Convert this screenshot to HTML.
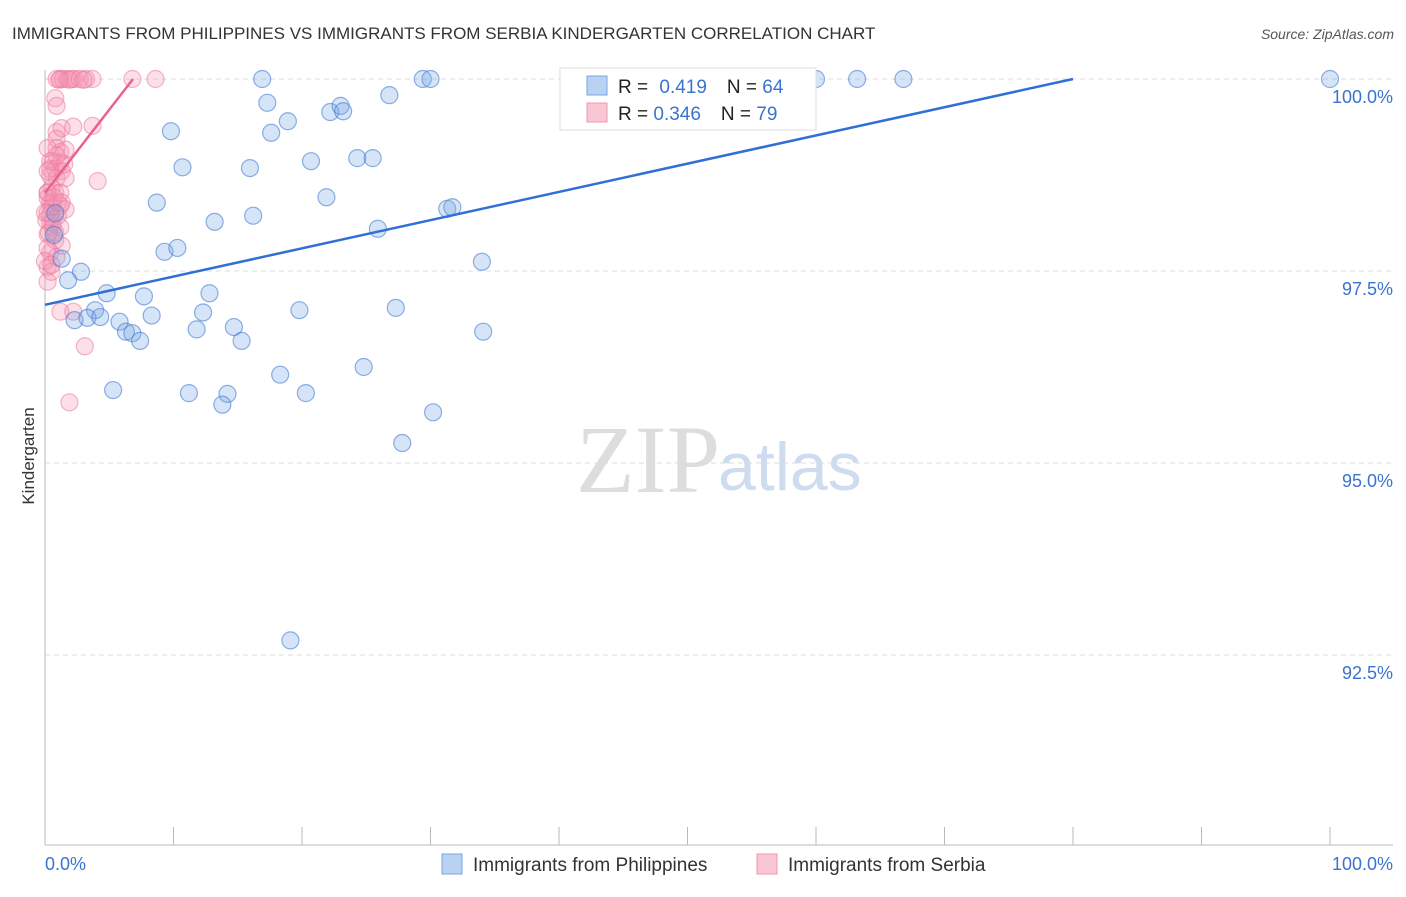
<!DOCTYPE html>
<html><head><meta charset="utf-8"><style>
body{margin:0;background:#fff;font-family:"Liberation Sans",sans-serif}
</style></head><body>
<svg id="c" width="1406" height="892" xmlns="http://www.w3.org/2000/svg" style="font-family:'Liberation Sans',sans-serif">
<text x="12" y="39" font-size="17" fill="#333">IMMIGRANTS FROM PHILIPPINES VS IMMIGRANTS FROM SERBIA KINDERGARTEN CORRELATION CHART</text>
<text x="1394" y="39" font-size="14" fill="#555" font-style="italic" text-anchor="end">Source: ZipAtlas.com</text>
<text x="34" y="456" font-size="17" fill="#333" transform="rotate(-90 34 456)" text-anchor="middle">Kindergarten</text>
<text x="720" y="492" font-size="96" fill="#ddd" text-anchor="end" font-family="Liberation Serif">ZIP</text>
<text x="718" y="490" font-size="68" fill="#cfdcf0">atlas</text>
<g id="grid"></g><g id="axes"></g><g id="pts"></g><g id="trend"></g>
<g>
<rect x="560" y="68" width="256" height="62" fill="#fff" stroke="#ddd"/>
<rect x="587" y="76" width="20" height="19" fill="#b9d1f3" stroke="#7ba4e0"/>
<rect x="587" y="103" width="20" height="19" fill="#f9c6d4" stroke="#ef9ab2"/>
<text x="618" y="93" font-size="19" fill="#222">R = <tspan fill="#3a73d0" dx="6">0.419</tspan><tspan dx="20" fill="#222">N = </tspan><tspan fill="#3a73d0">64</tspan></text>
<text x="618" y="120" font-size="19" fill="#222">R = <tspan fill="#3a73d0" dx="0">0.346</tspan><tspan dx="20" fill="#222">N = </tspan><tspan fill="#3a73d0">79</tspan></text>
</g>
<g>
<rect x="442" y="854" width="20" height="20" fill="#b9d1f3" stroke="#7ba4e0"/>
<text x="473" y="871" font-size="19" fill="#333">Immigrants from Philippines</text>
<rect x="757" y="854" width="20" height="20" fill="#f9c6d4" stroke="#ef9ab2"/>
<text x="788" y="871" font-size="19" fill="#333">Immigrants from Serbia</text>
</g>
<text x="45" y="870" font-size="18" fill="#3a73d0">0.0%</text>
<text x="1393" y="870" font-size="18" fill="#3a73d0" text-anchor="end">100.0%</text>
</svg>
<script>
const yTicks=[100,97.5,95,92.5];
const yTickLabels=["100.0%","97.5%","95.0%","92.5%"];
const blueX=[peX(262),peX(268)];
function peX(p){return p;}
</script>
<script>
// data in percent units
const blueXs=[16.9,17.3,17.6,18.9,20.7,21.9,22.2,23.0,23.2,24.3,25.5,25.9,26.8,29.4,30.0,31.3,31.7,34.0,34.1,60.0,63.2,66.8,100,9.8,10.7,8.7,13.2,15.95,16.2,9.3,10.3,0.7,1.3,2.8,1.8,4.8,7.7,12.8,3.9,2.3,3.3,4.3,5.8,8.3,12.3,6.3,6.8,7.4,11.8,14.7,15.3,19.8,27.3,5.3,11.2,14.2,13.8,18.3,20.3,24.8,30.2,27.8,19.1,0.8];
const blueYs=[100,99.69,99.3,99.45,98.93,98.46,99.57,99.65,99.58,98.97,98.97,98.05,99.79,100,100,98.31,98.33,97.62,96.71,100,100,100,100,99.32,98.85,98.39,98.14,98.84,98.22,97.75,97.8,97.97,97.66,97.49,97.38,97.21,97.17,97.21,96.99,96.86,96.89,96.9,96.84,96.92,96.96,96.71,96.69,96.59,96.74,96.77,96.59,96.99,97.02,95.95,95.91,95.9,95.76,96.15,95.91,96.25,95.66,95.26,92.69,98.25];
const pinkXs=[0.9,1.2,1.4,1.7,2.1,2.3,2.7,3.2,3.7,6.8,8.6,0.8,0.9,0.9,1.3,2.2,3.7,0.9,1.2,1.6,0.6,1.2,0.8,1.3,0.4,0.9,1.6,4.1,0.5,0.8,0.2,0.6,1.2,0.2,0.8,1.0,1.6,0.4,0.6,0.2,0.8,1.3,0.4,0.9,0.2,0.5,0.2,1.2,2.2,3.1,1.9,0.2,0.4,0.5,0.4,0.1,0.8,0.4,0.9,1.5,0.2,1.0,0,0.6,1.2,0.2,0,0.5,0.4,0.9,0.2,1.2,0.3,0.7,0.2,1.3,1.1,1.9,3.0];
const pinkYs=[100,100,100,100,100,100,100,100,100,100,100,99.75,99.65,99.31,99.36,99.38,99.39,99.1,99.05,99.08,98.93,98.91,98.83,98.8,98.74,98.71,98.71,98.67,98.58,98.52,98.45,98.39,98.35,98.26,98.26,98.22,98.3,98.13,98.07,97.98,97.9,97.83,97.74,97.68,97.55,97.49,97.36,96.97,96.97,96.52,95.79,98.52,98.39,98.33,98.24,98.16,98.0,98.93,99.22,98.89,98.52,98.39,98.26,98.13,98.07,97.8,97.63,97.58,98.83,99.0,99.1,98.52,98.0,98.46,98.8,98.39,99.99,99.99,99.99];
const blueTrend=[0,97.06,80,100];
const pinkTrend=[0,98.52,6.85,100];
const X0=45,X1=1330,YTOP=79,PX_PER=192/2.5;
const sx=v=>X0+(X1-X0)*v/100;
const sy=v=>YTOP+(100-v)*PX_PER;
const NS="http://www.w3.org/2000/svg";
function mk(tag,attrs,parent){const e=document.createElementNS(NS,tag);for(const k in attrs)e.setAttribute(k,attrs[k]);parent.appendChild(e);return e;}
const grid=document.getElementById('grid'),axes=document.getElementById('axes'),pts=document.getElementById('pts'),tr=document.getElementById('trend');
yTicks.forEach((t,i)=>{
 const l=mk('line',{x1:45,x2:1393,y1:sy(t),y2:sy(t),stroke:'#ddd','stroke-dasharray':'5,4'},grid);
 
 
 const tx=mk('text',{x:1393,y:sy(t)+24,'font-size':18,fill:'#3a73d0','text-anchor':'end'},grid);
 tx.textContent=yTickLabels[i];
 
 
});
const xa=mk('line',{x1:45,x2:1393,y1:845,y2:845,stroke:'#bbb'},axes);


const ya=mk('line',{x1:45,x2:45,y1:70,y2:845,stroke:'#bbb'},axes);


for(let i=0;i<=10;i++){const t=mk('line',{x1:sx(i*10),x2:sx(i*10),y1:827,y2:845,stroke:'#bbb'},axes);
 
 }
pinkXs.forEach((x,i)=>{const c=mk('circle',{cx:sx(x),cy:sy(pinkYs[i]),r:8.5,fill:'rgba(244,150,178,0.3)',stroke:'rgba(236,120,155,0.55)','stroke-width':1.2},pts);
 
 });
blueXs.forEach((x,i)=>{const c=mk('circle',{cx:sx(x),cy:sy(blueYs[i]),r:8.5,fill:'rgba(120,165,230,0.3)',stroke:'rgba(70,125,210,0.6)','stroke-width':1.2},pts);
 
 });
const bl=mk('line',{x1:sx(blueTrend[0]),y1:sy(blueTrend[1]),x2:sx(blueTrend[2]),y2:sy(blueTrend[3]),stroke:'#2f6fd6','stroke-width':2.5},tr);


const pl=mk('line',{x1:sx(pinkTrend[0]),y1:sy(pinkTrend[1]),x2:sx(pinkTrend[2]),y2:sy(pinkTrend[3]),stroke:'#e8628e','stroke-width':2.5},tr);


</script>
</body></html>
